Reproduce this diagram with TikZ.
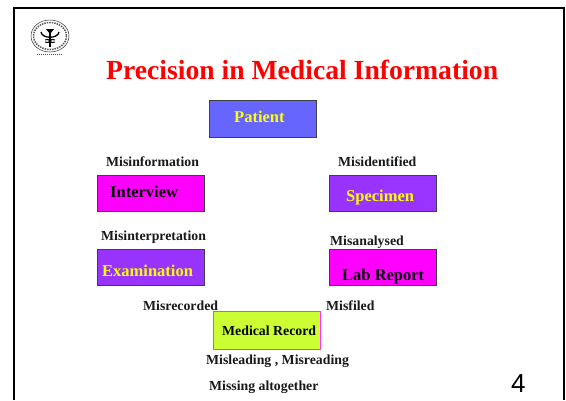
\documentclass[tikz,border=0pt]{standalone}
\usepackage{fontspec}
\setmainfont{Liberation Serif}
\setsansfont{Liberation Sans}
\tikzset{
 box/.style={draw=black!75,line width=1.1pt,minimum width=107pt,minimum height=36.5pt,inner sep=0pt,anchor=north west},
 lab/.style={font=\bfseries\fontsize{13.8}{15}\selectfont,anchor=base west,inner sep=0pt,text=black!90},
 boxtext/.style={font=\bfseries\fontsize{16.5}{18}\selectfont,anchor=base west,inner sep=0pt},
}
\definecolor{perib}{RGB}{102,102,255}
\definecolor{purp}{RGB}{153,51,255}
\definecolor{magen}{RGB}{255,0,255}
\definecolor{lime}{RGB}{204,255,51}
\definecolor{yel}{RGB}{255,255,0}
\begin{document}
\begin{tikzpicture}[x=1pt,y=-1pt]
\useasboundingbox (0,0) rectangle (566,400);
\fill[white] (0,0) rectangle (566,400);
\draw[line width=2pt,black] (14,400) -- (14,7.5) -- (564,7.5) -- (564,400);
% logo
\draw[line width=0.5pt,black!80] (50,36) ellipse (19 and 16);
\draw[line width=1.5pt,black!65,densely dotted] (50,36) ellipse (16.5 and 13.5);
\draw[line width=1.5pt,black] (50,29) -- (50,47);
\draw[line width=1.3pt,black] (41,32) .. controls (42,39) and (58,39) .. (59,32);
\draw[line width=1pt,black] (45,40) .. controls (50,37) and (50,45) .. (55,42);
\draw[line width=1pt,black] (55,40) .. controls (50,37) and (50,45) .. (45,42);
\fill[black] (46,29) -- (54,29) -- (50,34) -- cycle;
\draw[line width=1pt,black!70,densely dotted] (37,54) -- (63,54);
% title
\node[font=\bfseries\fontsize{27.65}{32}\selectfont,text=red,anchor=base west,inner sep=0pt] (title) at (106,79) {Precision in Medical Information};
% boxes
\node[box,fill=perib] (patient) at (208.6,100) {};
\node[box,fill=magen] (interview) at (96.6,174.8) {};
\node[box,fill=purp] (specimen) at (328.6,174.8) {};
\node[box,fill=purp] (exam) at (96.6,248.8) {};
\node[box,fill=magen] (labrep) at (328.6,248.8) {};
\node[box,fill=lime,draw=magen!80,line width=1.3pt,minimum width=107pt,minimum height=37.5pt] (record) at (212.8,311) {};
% box texts
\node[boxtext,text=yel] (tpatient) at (234,122) {Patient};
\node[boxtext,text=black] (tinterview) at (110,197) {Interview};
\node[boxtext,text=yel] (tspecimen) at (346,201) {Specimen};
\node[boxtext,text=yel] (texam) at (102,276) {Examination};
\node[boxtext,text=black] (tlab) at (342,280) {Lab Report};
\node[lab,text=black] (trecord) at (222,335) {Medical Record};
% labels
\node[lab] (l1) at (106,166) {Misinformation};
\node[lab] (l2) at (338,166) {Misidentified};
\node[lab] (l3) at (101,240) {Misinterpretation};
\node[lab] (l4) at (330,245) {Misanalysed};
\node[lab] (l5) at (143,310) {Misrecorded};
\node[lab] (l6) at (326,310) {Misfiled};
\node[lab] (l7) at (206,364) {Misleading , Misreading};
\node[lab] (l8) at (209,390) {Missing altogether};
\node[font=\sffamily\fontsize{26}{28}\selectfont,anchor=base west,inner sep=0pt] (num) at (511,392) {4};
\end{tikzpicture}
\end{document}
